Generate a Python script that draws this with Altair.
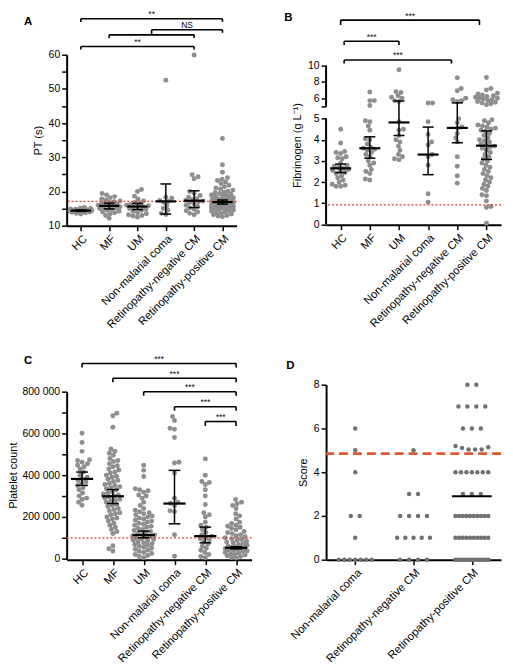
import altair as alt
import numpy as np
import pandas as pd

FONT = "Liberation Sans"

CATS6 = ["HC", "MF", "UM", "Non-malarial coma", "Retinopathy-negative CM", "Retinopathy-positive CM"]
CATS3 = ["Non-malarial coma", "Retinopathy-negative CM", "Retinopathy-positive CM"]

# ---------------- Panel A : PT (s) ----------------
PT_HC = [13.4, 13.6, 13.8, 13.9, 14.0, 14.0, 14.1, 14.2, 14.2, 14.3, 14.3, 14.4, 14.4, 14.4, 14.5, 14.5,
         14.6, 14.6, 14.7, 14.8, 14.9, 15.0, 15.1, 15.3]
PT_MF = [12.2, 13.0, 13.5, 13.8, 14.0, 14.2, 14.5, 14.8, 15.0, 15.2, 15.3, 15.5, 15.6, 15.8, 16.0, 16.1,
         16.3, 16.5, 16.8, 17.0, 17.2, 17.5, 17.8, 18.2, 18.5, 19.0, 19.4]
PT_UM = [12.5, 12.8, 13.0, 13.2, 13.5, 13.8, 14.2, 14.5, 14.8, 15.0, 15.3, 15.5, 15.6, 15.8, 16.0, 16.2,
         16.5, 16.8, 17.2, 17.8, 18.6, 20.0, 20.6]
PT_NMC = [13.3, 13.6, 14.5, 15.0, 15.8, 16.8, 17.1, 17.4, 18.0, 18.3, 52.5]
PT_RN = [13.2, 13.6, 14.0, 14.4, 14.8, 15.2, 15.6, 16.0, 16.5, 16.8, 17.0, 17.2, 17.4, 17.6, 17.9, 18.3,
         18.8, 19.5, 20.0, 23.7, 24.3, 24.9, 59.9]
PT_RP = [12.6, 12.8, 13.0, 13.2, 13.4, 13.6, 13.8, 14.0, 14.2, 14.4, 14.6, 14.8, 14.9, 15.0, 15.1, 15.2,
         15.3, 15.4, 15.5, 15.6, 15.7, 15.8, 15.9, 16.0, 16.1, 16.2, 16.3, 16.4, 16.5, 16.6, 16.7, 16.8,
         16.9, 16.9, 17.0, 17.1, 17.2, 17.3, 17.4, 17.5, 17.6, 17.8, 17.9, 18.0, 18.2, 18.4, 18.6, 18.8,
         19.0, 19.2, 19.4, 19.6, 19.8, 20.1, 20.4, 20.7, 21.0, 21.4, 21.8, 22.3, 22.8, 23.2, 23.6, 24.0,
         25.6, 27.8, 35.5]
PT_MED = [14.4, 15.8, 15.6, 17.1, 17.3, 16.9]
PT_LO = [14.2, 14.9, 14.7, 13.4, 15.3, 16.3]
PT_HI = [14.6, 16.6, 16.5, 22.2, 20.2, 17.5]
PT_REF = 17.1
# brackets: (from, to, level, left tip, right tip)
PT_BRACKETS = [(0, 5, 70.5, 69.6, 69.6), (1, 4, 65.8, 64.9, 64.9), (2.5, 5, 67.3, 65.8, 66.4),
               (0, 4, 62.4, 61.5, 61.5)]
PT_SIG_X = [2.5, 3.75, 2.0]
PT_SIG_Y = [70.5, 67.3, 62.4]
PT_SIG = ["**", "NS", "**"]

# ---------------- Panel B : Fibrinogen ----------------
FB_HC = [1.8, 1.8, 1.85, 1.9, 2.0, 2.1, 2.2, 2.3, 2.4, 2.45, 2.5, 2.55, 2.6, 2.65, 2.7, 2.75, 2.8, 2.9,
         3.1, 3.15, 3.2, 3.35, 3.4, 3.45, 3.85, 4.5]
FB_MF = [2.1, 2.15, 2.4, 2.5, 2.6, 2.8, 2.9, 3.0, 3.2, 3.3, 3.4, 3.5, 3.55, 3.6, 3.65, 3.8, 4.0, 4.05,
         4.45, 4.65, 4.85, 4.9, 5.1, 5.7, 5.7, 6.75]
FB_UM = [3.05, 3.1, 3.2, 3.3, 3.5, 3.7, 3.9, 4.0, 4.2, 4.45, 4.5, 4.85, 5.6, 5.7, 6.0, 6.1, 6.3, 6.7, 6.8, 9.5]
FB_NMC = [1.05, 1.45, 2.8, 3.2, 3.3, 3.75, 3.9, 4.25, 4.85, 5.4, 5.4]
FB_RN = [1.95, 2.3, 2.75, 3.2, 3.9, 4.1, 4.3, 4.55, 4.6, 4.8, 5.0, 5.6, 5.7, 5.8, 6.0, 6.9, 7.2, 8.5]
FB_RP = [0.05, 0.8, 0.85, 1.1, 1.35, 1.4, 1.6, 1.7, 1.8, 1.9, 2.0, 2.1, 2.2, 2.3, 2.4, 2.5, 2.6, 2.7, 2.8,
         2.9, 3.0, 3.1, 3.2, 3.3, 3.4, 3.5, 3.6, 3.65, 3.7, 3.75, 3.8, 3.9, 3.95, 4.0, 4.1, 4.2, 4.3, 4.4,
         4.45, 4.5, 4.55, 4.6, 4.65, 4.7, 4.8, 4.9, 4.95, 5.2, 5.3, 5.4, 5.5, 5.6, 5.7, 5.8, 5.9, 6.0, 6.0,
         6.1, 6.2, 6.3, 6.4, 6.5, 6.6, 7.0, 7.2, 8.55]
FB_MED = [2.65, 3.6, 4.82, 3.3, 4.56, 3.72]
FB_LO = [2.45, 3.13, 4.2, 2.35, 3.86, 3.07]
FB_HI = [2.85, 4.14, 5.65, 4.6, 5.42, 4.42]
FB_REF = 0.92
FB_BRACKETS = [(0, 4.76, 15.6, 15.0, 15.0), (0.12, 2.0, 13.0, 12.55, 12.55), (0.12, 3.8, 10.7, 10.25, 10.25)]
FB_SIG_X = [2.38, 1.06, 1.96]
FB_SIG_Y = [15.6, 13.0, 10.7]
FB_SIG = ["***", "***", "***"]
FB_AXIS_SEGMENTS_LO = [0, 5.001]
FB_AXIS_SEGMENTS_HI = [5, 10]

# ---------------- Panel C : Platelet count ----------------
PL_HC = [256e3, 270e3, 283e3, 290e3, 300e3, 315e3, 330e3, 340e3, 350e3, 360e3, 368e3, 375e3, 382e3,
         390e3, 400e3, 415e3, 430e3, 440e3, 448e3, 455e3, 462e3, 470e3, 474e3, 514e3, 557e3, 601e3]
PL_MF = [37e3, 48e3, 62e3, 120e3, 130e3, 140e3, 150e3, 160e3, 170e3, 180e3, 190e3, 195e3, 200e3, 210e3,
         215e3, 220e3, 230e3, 235e3, 240e3, 250e3, 255e3, 260e3, 270e3, 275e3, 280e3, 285e3, 290e3,
         295e3, 300e3, 305e3, 310e3, 315e3, 320e3, 330e3, 335e3, 340e3, 345e3, 350e3, 355e3, 360e3,
         370e3, 375e3, 380e3, 390e3, 395e3, 400e3, 410e3, 415e3, 425e3, 430e3, 440e3, 445e3, 455e3,
         465e3, 470e3, 480e3, 495e3, 505e3, 515e3, 525e3, 630e3, 685e3, 697e3]
PL_UM = [5e3, 10e3, 15e3, 20e3, 25e3, 30e3, 35e3, 40e3, 45e3, 50e3, 55e3, 60e3, 64e3, 68e3, 72e3, 76e3,
         80e3, 85e3, 88e3, 92e3, 95e3, 98e3, 102e3, 106e3, 110e3, 113e3, 116e3, 120e3, 125e3, 130e3,
         135e3, 140e3, 145e3, 150e3, 155e3, 160e3, 165e3, 170e3, 175e3, 180e3, 185e3, 190e3, 195e3,
         200e3, 205e3, 210e3, 215e3, 220e3, 225e3, 232e3, 240e3, 255e3, 270e3, 290e3, 300e3, 305e3,
         318e3, 325e3, 330e3, 335e3, 394e3, 423e3, 447e3]
PL_NMC = [12e3, 115e3, 225e3, 230e3, 255e3, 265e3, 270e3, 290e3, 410e3, 458e3, 462e3, 580e3, 620e3,
          625e3, 662e3, 681e3]
PL_RN = [5e3, 10e3, 20e3, 30e3, 40e3, 50e3, 60e3, 70e3, 80e3, 90e3, 95e3, 100e3, 108e3, 115e3, 125e3,
         140e3, 150e3, 160e3, 175e3, 200e3, 210e3, 220e3, 260e3, 300e3, 330e3, 355e3, 365e3, 370e3,
         400e3, 478e3]
PL_RP = [3e3, 6e3, 10e3, 14e3, 17e3, 20e3, 24e3, 27e3, 30e3, 34e3, 37e3, 40e3, 42e3, 45e3, 48e3, 50e3,
         52e3, 54e3, 57e3, 60e3, 64e3, 68e3, 72e3, 76e3, 80e3, 84e3, 88e3, 92e3, 96e3, 100e3, 105e3,
         110e3, 115e3, 120e3, 125e3, 130e3, 138e3, 145e3, 150e3, 155e3, 160e3, 168e3, 175e3, 190e3,
         205e3, 215e3, 240e3, 255e3, 263e3, 270e3, 283e3]
PL_MED = [382e3, 299e3, 113e3, 264e3, 108e3, 52e3]
PL_LO = [351e3, 264e3, 100e3, 167e3, 76e3, 47e3]
PL_HI = [415e3, 331e3, 132e3, 423e3, 151e3, 57e3]
PL_REF = 100e3
PL_BRACKETS = [(0, 5, 935e3, 916e3, 916e3), (1, 5, 864e3, 845e3, 845e3), (2, 5, 800e3, 781e3, 781e3),
               (3, 5, 728e3, 709e3, 709e3), (4, 5, 657e3, 636e3, 636e3)]
PL_SIG_X = [2.5, 3.0, 3.5, 4.0, 4.5]
PL_SIG_Y = [935e3, 864e3, 800e3, 728e3, 657e3]
PL_SIG = ["***", "***", "***", "***", "***"]

# ---------------- Panel D : Score ----------------
SC_NMC = [0, 0, 0, 0, 0, 0, 0, 1, 2, 2, 4, 5, 6]
SC_RN = [0, 0, 0, 0, 1, 1, 1, 1, 1, 2, 2, 2, 2, 3, 3, 5]
SC_RP = [0, 0, 0, 0, 0, 0, 0, 0, 0, 0, 0, 0, 0, 1, 1, 1, 1, 1, 1, 1, 1, 1, 1, 2, 2, 2, 2, 2, 2, 2, 2, 2, 2,
         3, 3, 3, 4, 4, 4, 4, 4, 4, 4, 5.2, 5.11, 5.04, 5.04, 5.04, 5.14, 6, 6, 6, 7, 7, 7, 7, 8, 8]
SC_MED_IDX = [2]
SC_MED = [2.9]
SC_REF = 4.85

# ---------------- geometry ----------------
A_W, A_H = 171, 172
B_W, B_H = 176, 171
C_W, C_H = 186, 176
D_W, D_H = 176, 176
B_DOM = [0, 5, 5.001, 10]
B_RANGE = [170.7, 64.3, 51.9, 11]
C_RANGE = [175, 7]

PT_COLOR = "#8e8e8e"
D_COLOR = "#707070"
RED = "#d9452b"


def swarm(vals, to_px, step, d=4.4, maxhalf=11.0):
    vals = np.asarray(vals, float)
    ys = to_px(vals)
    base = np.arange(-maxhalf, maxhalf + 1e-9, 0.5)
    ordA = base[np.argsort(np.abs(base) + 1e-3 * (base < 0), kind="stable")]
    ordB = base[np.argsort(np.abs(base) + 1e-3 * (base > 0), kind="stable")]
    px_x, px_y = [], []
    out = np.zeros(len(vals))
    for k, i in enumerate(np.argsort(vals, kind="stable")):
        cands = ordA if k % 2 == 0 else ordB
        if px_x:
            ax = np.array(px_x)
            ay = np.array(px_y)
            dist = np.sqrt((cands[:, None] - ax[None, :]) ** 2 + (ys[i] - ay[None, :]) ** 2).min(axis=1)
        else:
            dist = np.full(len(cands), 1e9)
        ok = np.where(dist >= d)[0]
        j = ok[0] if len(ok) else int(np.argmax(dist))
        out[i] = cands[j]
        px_x.append(cands[j])
        px_y.append(ys[i])
    return out / step


def rows_spread(vals, step, gap=9.0, maxw=33.0):
    vals = list(vals)
    out = np.zeros(len(vals))
    keys = [round(v) for v in vals]
    for key in set(keys):
        ids = [i for i, k in enumerate(keys) if k == key]
        n = len(ids)
        sp = gap if n < 2 else min(gap, maxw / (n - 1))
        for j, i in enumerate(ids):
            out[i] = (j - (n - 1) / 2) * sp
    return out / step


def points_df(groups, offsets_fn):
    rows = []
    for idx, vals in enumerate(groups):
        offs = offsets_fn(vals)
        for v, o in zip(vals, offs):
            rows.append({"xpos": idx + o, "val": v})
    return pd.DataFrame(rows)


def stats_df(idx, med, lo, hi, mh=0.36, ch=0.19):
    idx = np.asarray(idx, float)
    return pd.DataFrame({"idx": idx, "med": med, "lo": lo, "hi": hi,
                         "m1": idx - mh, "m2": idx + mh, "c1": idx - ch, "c2": idx + ch})


def bracket_df(specs):
    rows = []
    for lo, hi, lev, tl, th in specs:
        rows.append(dict(x=lo, x2=hi, y=lev, y2=lev))
        rows.append(dict(x=lo, x2=lo, y=lev, y2=tl))
        rows.append(dict(x=hi, x2=hi, y=lev, y2=th))
    return pd.DataFrame(rows)


def panel(letter, cats, pts, stats, brackets, sig, ref, ref_style, width, height, yscale, yaxis,
          pcolor=PT_COLOR, psize=25, axis_segments=None, median_only=None, tdx=-43, tdy=0):
    n = len(cats)
    xscale = alt.Scale(domain=[-0.5, n - 0.5], nice=False, zero=False)
    lab = "[" + ",".join("'%s'" % c for c in cats) + "][datum.value]"
    xaxis = alt.Axis(values=list(range(n)), labelExpr=lab, labelAngle=-45, title=None, grid=False,
                     labelOverlap=False, labelAlign="right", labelBaseline="top")

    def X(f):
        return alt.X(f, type="quantitative", scale=xscale, axis=xaxis)

    def Y(f):
        return alt.Y(f, type="quantitative", scale=yscale, axis=yaxis)

    layers = []
    layers.append(alt.Chart(pts).mark_circle(size=psize, color=pcolor, opacity=1).encode(x=X("xpos"), y=Y("val")))
    layers.append(alt.Chart(pd.DataFrame({"r": [ref]})).mark_rule(**ref_style).encode(y=Y("r")))
    if stats is not None:
        layers.append(alt.Chart(stats).mark_rule(color="black", strokeWidth=2.2).encode(
            x=X("m1"), x2=alt.X2("m2"), y=Y("med")))
        layers.append(alt.Chart(stats).mark_rule(color="black", strokeWidth=1.5).encode(
            x=X("idx"), y=Y("lo"), y2=alt.Y2("hi")))
        layers.append(alt.Chart(stats).mark_rule(color="black", strokeWidth=1.5).encode(
            x=X("c1"), x2=alt.X2("c2"), y=Y("lo")))
        layers.append(alt.Chart(stats).mark_rule(color="black", strokeWidth=1.5).encode(
            x=X("c1"), x2=alt.X2("c2"), y=Y("hi")))
    if median_only is not None:
        layers.append(alt.Chart(median_only).mark_rule(color="black", strokeWidth=2).encode(
            x=X("m1"), x2=alt.X2("m2"), y=Y("med")))
    if brackets is not None:
        layers.append(alt.Chart(brackets).mark_rule(color="black", strokeWidth=1.6).encode(
            x=X("x"), x2=alt.X2("x2"), y=Y("y"), y2=alt.Y2("y2")))
        layers.append(alt.Chart(sig).mark_text(font=FONT, fontSize=8.5, baseline="alphabetic", dy=-1.5,
                                               color="black").encode(
            x=X("tx"), y=Y("ty"), text="lab:N"))
    if axis_segments is not None:
        layers.append(alt.Chart(axis_segments).mark_rule(color="black", strokeWidth=2).encode(
            x=alt.value(0), y=Y("a"), y2=alt.Y2("b")))
    title = alt.TitleParams(text=letter, anchor="start", frame="group", dx=tdx, dy=tdy, offset=0,
                            fontSize=11.5, fontWeight="bold", font=FONT, color="black")
    return alt.layer(*layers).properties(width=width, height=height, title=title)


dotted = dict(color=RED, strokeWidth=1.3, strokeDash=[2, 2])
dashed = dict(color="#e2572e", strokeWidth=2.6, strokeDash=[9, 5])

# ---- A
a_px = lambda v: (np.asarray(v) - 10) * A_H / 50.0
A_pts = points_df([PT_HC, PT_MF, PT_UM, PT_NMC, PT_RN, PT_RP], lambda v: swarm(v, a_px, A_W / 6))
A_stats = stats_df(range(6), PT_MED, PT_LO, PT_HI)
A_sig = pd.DataFrame({"tx": PT_SIG_X, "ty": PT_SIG_Y, "lab": PT_SIG})
A = panel("A", CATS6, A_pts, A_stats, bracket_df(PT_BRACKETS), A_sig, PT_REF, dotted, A_W, A_H,
          alt.Scale(domain=[10, 60], nice=False, zero=False),
          alt.Axis(values=list(range(10, 61, 5)), labelExpr="datum.value % 10 == 0 ? datum.label : ''",
                   title="PT (s)", grid=False, labelOverlap=False),
          tdy=17)

# ---- B
b_px = lambda v: np.interp(np.asarray(v, float), B_DOM, B_RANGE)
B_pts = points_df([FB_HC, FB_MF, FB_UM, FB_NMC, FB_RN, FB_RP], lambda v: swarm(v, b_px, B_W / 6))
B_stats = stats_df(range(6), FB_MED, FB_LO, FB_HI)
B_sig = pd.DataFrame({"tx": FB_SIG_X, "ty": FB_SIG_Y, "lab": FB_SIG})
B_seg = pd.DataFrame({"a": FB_AXIS_SEGMENTS_LO, "b": FB_AXIS_SEGMENTS_HI})
B = panel("B", CATS6, B_pts, B_stats, bracket_df(FB_BRACKETS), B_sig, FB_REF, dotted, B_W, B_H,
          alt.Scale(domain=B_DOM, range=B_RANGE, nice=False, zero=False),
          alt.Axis(values=[0, 1, 2, 3, 4, 5, 5.001, 6, 8, 10], domain=False,
                   labelExpr="datum.value > 5 && datum.value < 5.01 ? '' : format(datum.value, 'd')",
                   title="Fibrinogen (g L\u207b\u00b9)", grid=False, labelOverlap=False),
          axis_segments=B_seg, tdx=-42, tdy=12)

# ---- C
c_px = lambda v: np.asarray(v, float) * (C_RANGE[0] - C_RANGE[1]) / 800000.0
C_pts = points_df([PL_HC, PL_MF, PL_UM, PL_NMC, PL_RN, PL_RP], lambda v: swarm(v, c_px, C_W / 6))
C_stats = stats_df(range(6), PL_MED, PL_LO, PL_HI)
C_sig = pd.DataFrame({"tx": PL_SIG_X, "ty": PL_SIG_Y, "lab": PL_SIG})
C = panel("C", CATS6, C_pts, C_stats, bracket_df(PL_BRACKETS), C_sig, PL_REF, dotted, C_W, C_H,
          alt.Scale(domain=[0, 800000], range=C_RANGE, nice=False, zero=False),
          alt.Axis(values=list(range(0, 800001, 100000)),
                   labelExpr="datum.value % 200000 != 0 ? '' : (datum.value == 0 ? '0' : format(datum.value / 1000, 'd') + ' 000')",
                   title="Platelet count", grid=False, labelOverlap=False, titlePadding=3),
          tdy=12)

# ---- D
D_pts = points_df([SC_NMC, SC_RN, SC_RP], lambda v: rows_spread(v, D_W / 3))
D_stats = pd.DataFrame({"m1": np.array(SC_MED_IDX) - 0.34, "m2": np.array(SC_MED_IDX) + 0.34, "med": SC_MED})
D = panel("D", CATS3, D_pts, None, None, None, SC_REF, dashed, D_W, D_H,
          alt.Scale(domain=[0, 8], nice=False, zero=False),
          alt.Axis(values=[0, 2, 4, 6, 8], title="Score", grid=False, labelOverlap=False),
          pcolor=D_COLOR, psize=20, median_only=D_stats, tdx=-40, tdy=-8)

chart = alt.concat(A, B, C, D, columns=2, align="each", spacing={"row": 24, "column": 32}).configure_view(
    stroke=None).configure_axis(
    labelFont=FONT, titleFont=FONT, labelFontSize=10.5, titleFontSize=11, titleFontWeight="normal",
    labelColor="black", titleColor="black", domainColor="black", domainWidth=2, tickColor="black",
    tickWidth=1.5, tickSize=5, labelPadding=2, titlePadding=5).configure_axisX(
    labelFontSize=11.3).properties(padding={"left": 0, "top": 0, "right": 2, "bottom": 0})

chart.save("out.html", embed_options={"renderer": "svg", "actions": False})
